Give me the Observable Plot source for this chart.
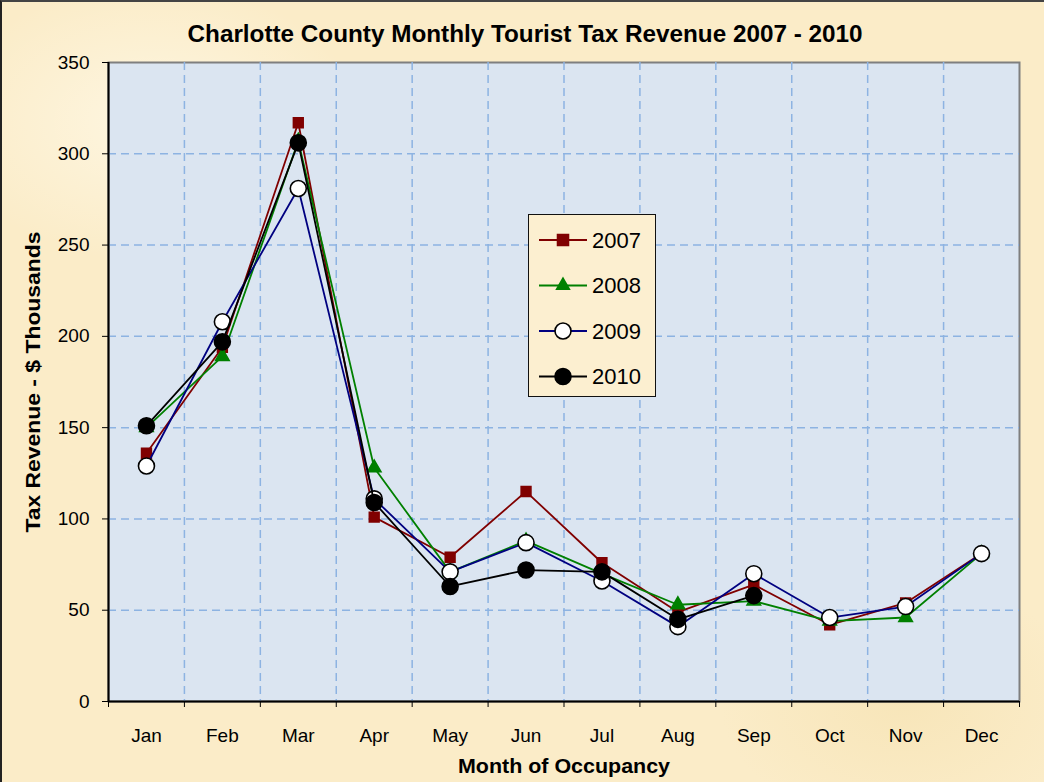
<!DOCTYPE html>
<html>
<head>
<meta charset="utf-8">
<script src="https://cdn.jsdelivr.net/npm/d3@7"></script>
<script src="https://cdn.jsdelivr.net/npm/@observablehq/plot@0.6"></script>
<style>
  html, body { margin: 0; padding: 0; }
  #wrap {
    position: relative; width: 1044px; height: 782px; box-sizing: border-box;
    border-left: 2px solid #222; border-top: 2px solid #444; overflow: hidden;
    background:
      radial-gradient(ellipse 300px 200px at 150px 120px, rgba(255,250,235,0.7), rgba(255,250,235,0) 70%),
      radial-gradient(ellipse 260px 180px at 900px 700px, rgba(245,225,175,0.6), rgba(245,225,175,0) 70%),
      radial-gradient(ellipse 350px 220px at 600px 400px, rgba(255,245,220,0.5), rgba(255,245,220,0) 70%),
      #fbecc8;
    font-family: "Liberation Sans", Arial, sans-serif;
  }
  #chart { position: absolute; left: -2px; top: -2px; }
  #legend {
    position: absolute; left: 526px; top: 212px; width: 128px; height: 183px;
    box-sizing: border-box; border: 1.5px solid #111;
    background: #fcefd0;
  }
</style>
</head>
<body>
<div id="wrap">
  <div id="chart"></div>
  <div id="legend"></div>
</div>
<script>
const months = ["Jan","Feb","Mar","Apr","May","Jun","Jul","Aug","Sep","Oct","Nov","Dec"];
const years = ["2007","2008","2009","2010"];
const v2007 = [136, 194, 317, 101, 79, 115, 76, 49, 64, 42, 54, 81];
const v2008 = [150, 189, 307, 128, 71, 88, 70, 53, 55, 44, 46, 81];
const v2009 = [129, 208, 281, 111, 71, 87, 66, 41, 70, 46, 52, 81];
const v2010 = [151, 197, 306, 109, 63, 72, 71, 45, 58];
const yTicks = [0, 50, 100, 150, 200, 250, 300, 350];

const titleText = "Charlotte County Monthly Tourist Tax Revenue 2007 - 2010";
const yLabelText = "Tax Revenue - $ Thousands";
const xLabelText = "Month of Occupancy";

const seriesValues = [v2007, v2008, v2009, v2010];
const styles = {
  "2007": {line: "#800000", symbol: "square", fill: "#800000", stroke: "#800000", r: 5.5},
  "2008": {line: "#008000", symbol: "triangle", fill: "#008000", stroke: "#008000", r: 5},
  "2009": {line: "#000080", symbol: "circle", fill: "white", stroke: "black", r: 8},
  "2010": {line: "black", symbol: "circle", fill: "black", stroke: "black", r: 8}
};

const rows = [];
years.forEach((yr, k) => seriesValues[k].forEach((v, i) => rows.push({year: yr, m: i + 0.5, value: v})));

const seriesMarks = years.flatMap(yr => {
  const s = styles[yr];
  const d = rows.filter(r => r.year === yr);
  return [
    Plot.line(d, {x: "m", y: "value", stroke: s.line, strokeWidth: 1.8}),
    Plot.dot(d, {x: "m", y: "value", symbol: () => s.symbol, fill: s.fill, stroke: s.stroke,
                 strokeWidth: 1.6, r: s.r})
  ];
});

const chart = Plot.plot({
  width: 1044, height: 782,
  marginLeft: 108, marginRight: 25, marginTop: 62, marginBottom: 81,
  x: {domain: [0, 12]},
  y: {domain: [0, 350]},
  symbol: {type: "identity"},
  style: {background: "transparent", fontFamily: "'Liberation Sans', Arial, sans-serif", fontSize: "19px", color: "black"},
  marks: [
    Plot.frame({fill: "#dbe5f1", stroke: "#7f7f7f", strokeWidth: 2}),
    Plot.gridY(yTicks.filter(t => t > 0 && t < 350), {stroke: "#8db3e2", strokeOpacity: 1, strokeWidth: 1.5, strokeDasharray: "8,5"}),
    Plot.gridX(d3.range(1, 12), {stroke: "#8db3e2", strokeOpacity: 1, strokeWidth: 1.5, strokeDasharray: "8,5"}),
    Plot.axisY(yTicks, {tickSize: 6, tickPadding: 13, label: null, fontSize: 19}),
    Plot.axisX(d3.range(0, 13), {tickSize: 6, tickFormat: () => "", label: null}),
    Plot.axisX(months.map((m, i) => i + 0.5), {tickSize: 0, tickPadding: 27, tickFormat: d => months[Math.floor(d)], label: null, fontSize: 19}),
    Plot.ruleX([0], {stroke: "black", strokeWidth: 2}),
    Plot.ruleY([0], {stroke: "black", strokeWidth: 2}),
    ...seriesMarks,
    Plot.text([titleText], {frameAnchor: "top", lineAnchor: "middle", textAnchor: "middle", dx: -39, dy: -28, fontSize: 23, fontWeight: "bold", fill: "black"}),
    Plot.text([yLabelText], {frameAnchor: "left", lineAnchor: "middle", textAnchor: "middle", rotate: -90, dx: -75, fontSize: 21, fontWeight: "bold", fill: "black"}),
    Plot.text([xLabelText], {frameAnchor: "bottom", lineAnchor: "middle", textAnchor: "middle", dy: 65, fontSize: 21, fontWeight: "bold", fill: "black"})
  ]
});
document.getElementById("chart").appendChild(chart);

// fit labels to the reference widths
const lengths = {[titleText]: 675, [yLabelText]: 301, [xLabelText]: 212};
d3.select(chart).selectAll("text").each(function() {
  const t = this.textContent;
  if (lengths[t]) {
    d3.select(this).attr("textLength", lengths[t]).attr("lengthAdjust", "spacingAndGlyphs");
  }
});

// Legend
const lg = d3.select("#legend").append("svg").attr("width", 125).attr("height", 180);
years.forEach((yr, k) => {
  const s = styles[yr];
  const y = 25 + k * 45.5;
  const g = lg.append("g").attr("transform", `translate(0,${y})`);
  g.append("line").attr("x1", 10).attr("x2", 58).attr("y1", 0).attr("y2", 0).attr("stroke", s.line).attr("stroke-width", 1.8);
  const sym = s.symbol === "square" ? d3.symbolSquare : s.symbol === "triangle" ? d3.symbolTriangle : d3.symbolCircle;
  const size = s.symbol === "circle" ? Math.PI * s.r * s.r : s.symbol === "square" ? 120 : 70;
  g.append("path").attr("d", d3.symbol(sym, size)()).attr("transform", "translate(34,0)")
    .attr("fill", s.fill).attr("stroke", s.stroke).attr("stroke-width", 1.6);
  g.append("text").attr("x", 63).attr("y", 0).attr("dy", "0.36em").attr("font-size", 22)
    .attr("font-family", "'Liberation Sans', Arial, sans-serif").text(yr);
});
</script>
</body>
</html>
